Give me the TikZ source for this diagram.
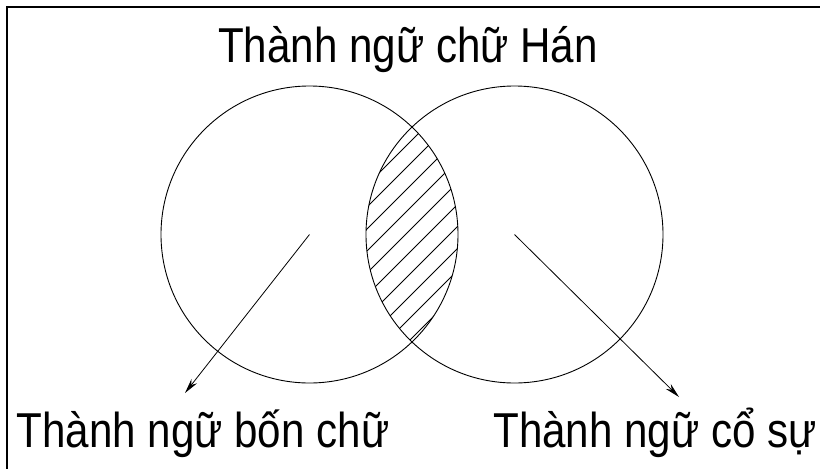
\documentclass[tikz,border=0pt]{standalone}
\usepackage{fontspec}
\setmainfont{Liberation Sans}
\usetikzlibrary{arrows.meta}

\tikzset{
  setcircle/.style={circle, draw, line width=0.9pt, minimum size=297pt, inner sep=0pt},
  pointer/.style={-{Stealth[length=15pt,width=7pt]}, line width=0.8pt},
  label/.style={font=\fontsize{49}{56}\selectfont, xscale=0.86, anchor=base, inner sep=0pt}
}

\begin{document}
\begin{tikzpicture}[x=1pt, y=-1pt]
        \useasboundingbox (0,0) rectangle (820,469);
        \draw[line width=1.6pt] (820,7) -- (7,7) -- (7,469);
        \node[label] (han) at (408,62) {Thành ngữ chữ Hán};
        \node[setcircle] (bon) at (309.5,234.5) {};
        \node[setcircle] (co) at (514.5,234.5) {};
        \begin{scope}
          \clip (bon.center) circle (148.5pt);
          \clip (co.center) circle (148.5pt);
          \foreach \c in {486,508,...,816}
            \draw[line width=0.8pt] (\c-400,400) -- (\c-100,100);
        \end{scope}
        \coordinate (bontip) at (185,393);
        \coordinate (cotip) at (679,397);
        \draw[pointer] (bon.center) -- (bontip);
        \draw[pointer] (co.center) -- (cotip);
        \node[label] (bonlabel) at (203,447) {Thành ngữ bốn chữ};
        \node[label] (colabel) at (655,447) {Thành ngữ cổ sự};
      \end{tikzpicture}
\end{document}
